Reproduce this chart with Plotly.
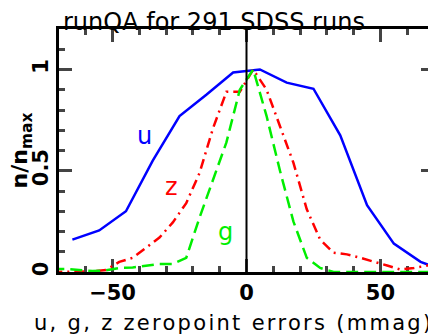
import plotly.graph_objects as go

# u band: 10 mmag bins
u_x = [-65, -55, -45, -35, -25, -15, -5, 5, 15, 25, 35, 45, 55, 65, 75]
u_y = [0.16, 0.205, 0.30, 0.55, 0.77, 0.875, 0.985, 1.0, 0.935, 0.905, 0.675, 0.33, 0.14, 0.05, 0.0]

# g and z bands: 5 mmag bins
gz_x = [-72.5, -67.5, -62.5, -57.5, -52.5, -47.5, -42.5, -37.5, -32.5, -27.5,
        -22.5, -17.5, -12.5, -7.5, -2.5, 2.5, 7.5, 12.5, 17.5, 22.5,
        27.5, 32.5, 37.5, 42.5, 47.5, 52.5, 57.5, 62.5, 67.5, 72.5]
z_y = [0.0, 0.0, 0.003, 0.003, 0.01, 0.05, 0.07, 0.12, 0.17, 0.245,
       0.34, 0.49, 0.71, 0.89, 0.89, 1.0, 0.90, 0.72, 0.54, 0.31,
       0.16, 0.095, 0.087, 0.07, 0.052, 0.032, 0.012, 0.02, 0.032, 0.042]
g_y = [0.015, 0.015, 0.01, 0.005, 0.008, 0.02, 0.022, 0.03, 0.04, 0.04,
       0.07, 0.27, 0.45, 0.64, 0.90, 1.0, 0.77, 0.50, 0.25, 0.07,
       0.02, 0.0, 0.0, 0.0, 0.0, 0.0, 0.0, 0.0, 0.0, 0.0]

FONT = "DejaVu Sans"
# page body has an 8px margin, so the figure is made 8px smaller
W, H = 428, 328

fig = go.Figure()
fig.add_scatter(x=u_x, y=u_y, mode="lines", line=dict(color="#0000ff", width=2.5), name="u")
fig.add_scatter(x=gz_x, y=z_y, mode="lines",
                line=dict(color="#ff0000", width=2.5, dash="10px,5px,2px,5px"), name="z")
fig.add_scatter(x=gz_x, y=g_y, mode="lines",
                line=dict(color="#00ee00", width=2.5, dash="12px,6px"), name="g")

# vertical line at zero
fig.add_shape(type="line", x0=0, x1=0, y0=0, y1=1, xref="x", yref="paper",
              line=dict(color="black", width=2))

# band labels
fig.add_annotation(x=-38, y=0.67, text="u", showarrow=False, font=dict(family=FONT, size=24, color="#0000ff"))
fig.add_annotation(x=-28, y=0.42, text="z", showarrow=False, font=dict(family=FONT, size=24, color="#ff0000"))
fig.add_annotation(x=-7.7, y=0.20, text="g", showarrow=False, font=dict(family=FONT, size=24, color="#00ee00"))

# axis titles
fig.add_annotation(x=0.467, y=-0.21, xref="paper", yref="paper", xanchor="center", yanchor="middle",
                   text='<span style="letter-spacing:2.3px">u, g, z zeropoint errors (mmag)</span>',
                   showarrow=False, font=dict(family=FONT, size=21, color="black"))
fig.add_annotation(x=-0.099, y=0.5, xref="paper", yref="paper", xanchor="center", yanchor="middle",
                   text="n/n<sub>max</sub>", textangle=-90,
                   showarrow=False, font=dict(family=FONT, size=22, color="black", weight="bold"))

fig.update_xaxes(range=[-70, 70], tickvals=[-50, 0, 50], ticks="inside", ticklen=13, tickwidth=2.5,
                 minor=dict(dtick=10, ticks="inside", ticklen=6, tickwidth=2.5),
                 showline=True, linewidth=3, linecolor="black", mirror="ticks", automargin=False,
                 showgrid=False, zeroline=False, layer="below traces",
                 tickfont=dict(family=FONT, size=21, color="black", weight="bold"))
fig.update_yaxes(range=[0, 1.2], tickvals=[0, 0.5, 1], ticks="inside", ticklen=13, tickwidth=2.5,
                 minor=dict(dtick=0.1, ticks="inside", ticklen=6, tickwidth=2.5),
                 showline=True, linewidth=3, linecolor="black", mirror="ticks", automargin=False,
                 showgrid=False, zeroline=False, tickangle=-90,
                 tickfont=dict(family=FONT, size=21, color="black", weight="bold"))

fig.update_layout(template="none", width=W, height=H, margin=dict(l=51, r=2, t=21, b=64),
                  plot_bgcolor="white", paper_bgcolor="white", showlegend=False,
                  title=dict(text="runQA for 291 SDSS runs", x=55 / W, xanchor="left",
                             y=1 - 14 / H, yanchor="middle", xref="container", yref="container",
                             pad=dict(l=0, r=0, t=0, b=0),
                             font=dict(family=FONT, size=24, color="black")))

fig.write_html("out.html")
